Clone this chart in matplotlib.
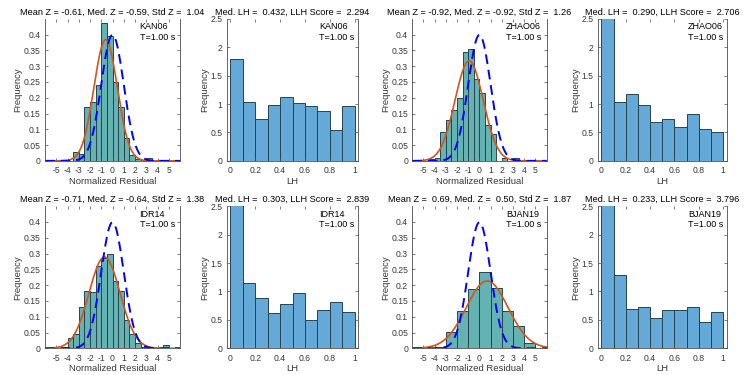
import numpy as np
from matplotlib import pyplot as plt

plt.rcParams['font.family'] = ['Liberation Sans', 'DejaVu Sans']
plt.rcParams['axes.unicode_minus'] = False

## Data ##
stations = ["KAN06", "ZHAO06", "IDR14", "BJAN19"]

# normalized residual histograms (pdf normalisation)
res_start = [-3.5, -4.5, -4.5, -5.0]
res_width = [0.5, 0.5, 0.5, 1.0]
kan06_res = [0.028, 0.022, 0.172, 0.187, 0.24, 0.437, 0.395, 0.249, 0.171, 0.072, 0.018, 0.005, 0.0, 0.01]
zhao06_res = [0.005, 0.01, 0.09, 0.13, 0.16, 0.20, 0.345, 0.355, 0.26, 0.215, 0.115, 0.085, 0.0, 0.01, 0.0, 0.01]
idr14_res = [0.003, 0.033, 0.045, 0.13, 0.18, 0.177, 0.26, 0.285, 0.30, 0.213, 0.182, 0.09, 0.045, 0.017, 0.005, 0.003, 0.0, 0.0, 0.01]
bjan19_res = [0.002, 0.005, 0.051, 0.117, 0.189, 0.242, 0.191, 0.117, 0.071, 0.016]

# residual stats shown in the titles
mean_z = [-0.61, -0.92, -0.71, 0.69]
med_z = [-0.59, -0.92, -0.64, 0.50]
std_z = [1.04, 1.26, 1.38, 1.87]

# LH histograms, bins of 0.1
lh_bins = np.arange(0, 1.0, 0.1)
kan06_lh = [1.79, 1.03, 0.73, 0.98, 1.12, 1.015, 0.96, 0.875, 0.54, 0.96]
zhao06_lh = [2.94, 1.03, 1.17, 0.98, 0.68, 0.73, 0.59, 0.82, 0.56, 0.50]
idr14_lh = [2.975, 1.14, 0.89, 0.615, 0.78, 0.98, 0.50, 0.67, 0.81, 0.64]
bjan19_lh = [3.59, 1.29, 0.70, 0.72, 0.53, 0.67, 0.67, 0.72, 0.47, 0.64]

med_lh = [0.432, 0.290, 0.303, 0.233]
llh_score = [2.294, 2.706, 2.839, 3.796]

res_data = [kan06_res, zhao06_res, idr14_res, bjan19_res]
lh_data = [kan06_lh, zhao06_lh, idr14_lh, bjan19_lh]

teal = '#64b2b2'
lhblue = '#64a9d8'
edge = '#24454d'
orange = '#d95319'
axcol = '#4d4d4d'
txtcol = '#383838'

fig = plt.figure(figsize=(7.5, 3.75), dpi=100)

# axes rectangles in figure fraction
row_y = [0.571, 0.0712]
row_h = 0.379
col_res = [(0.060, 0.180), (0.5497, 0.179)]
col_lh = [(0.3023, 0.1755), (0.797, 0.172)]


def style_axes(ax):
    for side in ['left', 'right', 'bottom']:
        ax.spines[side].set_color(axcol)
        ax.spines[side].set_linewidth(0.6)
    ax.spines['top'].set_visible(False)
    ax.tick_params(direction='in', length=2.5, width=0.5, color=axcol,
                   labelsize=6.2, labelcolor=txtcol, top=True, right=True)
    ax.tick_params(axis='x', pad=4)
    ax.tick_params(axis='y', pad=3)


def normpdf(x, mu, sig):
    return np.exp(-0.5 * ((x - mu) / sig) ** 2) / (sig * np.sqrt(2 * np.pi))


xx = np.linspace(-6, 6, 400)

for i, name in enumerate(stations):
    r = i // 2
    c = i % 2

    # residual histogram
    ax = fig.add_axes([col_res[c][0], row_y[r], col_res[c][1], row_h])
    h = res_data[i]
    lefts = res_start[i] + res_width[i] * np.arange(len(h))
    ax.bar(lefts, h, width=res_width[i], align='edge', color=teal,
           edgecolor=edge, linewidth=0.7)
    ax.plot(xx, normpdf(xx, mean_z[i], std_z[i]), color=orange, lw=1.2)
    ax.plot(xx, normpdf(xx, 0, 1), color='b', lw=1.4, ls=(0, (5, 3)))
    ax.set_xlim(-6, 6)
    ax.set_ylim(0, 0.45)
    ax.set_xticks(np.arange(-5, 6))
    ax.set_yticks(np.arange(0, 0.41, 0.05))
    ax.set_yticklabels(['0', '0.05', '0.1', '0.15', '0.2', '0.25', '0.3', '0.35', '0.4'])
    style_axes(ax)
    ax.set_xlabel('Normalized Residual', fontsize=6.8, color=txtcol, labelpad=1)
    ax.set_ylabel('Frequency', fontsize=6.8, color=txtcol, labelpad=1)
    ax.set_title('Mean Z = %5.2f, Med. Z = %5.2f, Std Z = %5.2f' % (mean_z[i], med_z[i], std_z[i]),
                 fontsize=6.6, pad=3)
    ax.text(0.70, 0.975, name + '\nT=1.00 s', transform=ax.transAxes, fontsize=6.5,
            va='top', ha='left', linespacing=1.2)

    # LH histogram
    ax = fig.add_axes([col_lh[c][0], row_y[r], col_lh[c][1], row_h])
    ax.bar(lh_bins, lh_data[i], width=0.1, align='edge', color=lhblue,
           edgecolor=edge, linewidth=0.7)
    ax.set_xlim(-0.03, 1.03)
    ax.set_ylim(0, 2.5)
    ax.set_xticks(np.arange(0, 1.01, 0.2))
    ax.set_xticklabels(['0', '0.2', '0.4', '0.6', '0.8', '1'])
    ax.set_yticks(np.arange(0, 2.51, 0.5))
    ax.set_yticklabels(['0', '0.5', '1', '1.5', '2', '2.5'])
    style_axes(ax)
    ax.set_xlabel('LH', fontsize=6.8, color=txtcol, labelpad=1)
    ax.set_ylabel('Frequency', fontsize=6.8, color=txtcol, labelpad=1)
    ax.set_title('Med. LH = %6.3f, LLH Score = %6.3f' % (med_lh[i], llh_score[i]),
                 fontsize=6.6, pad=3)
    ax.text(0.70, 0.975, name + '\nT=1.00 s', transform=ax.transAxes, fontsize=6.5,
            va='top', ha='left', linespacing=1.2)

fig.savefig('out.png', dpi=100)
